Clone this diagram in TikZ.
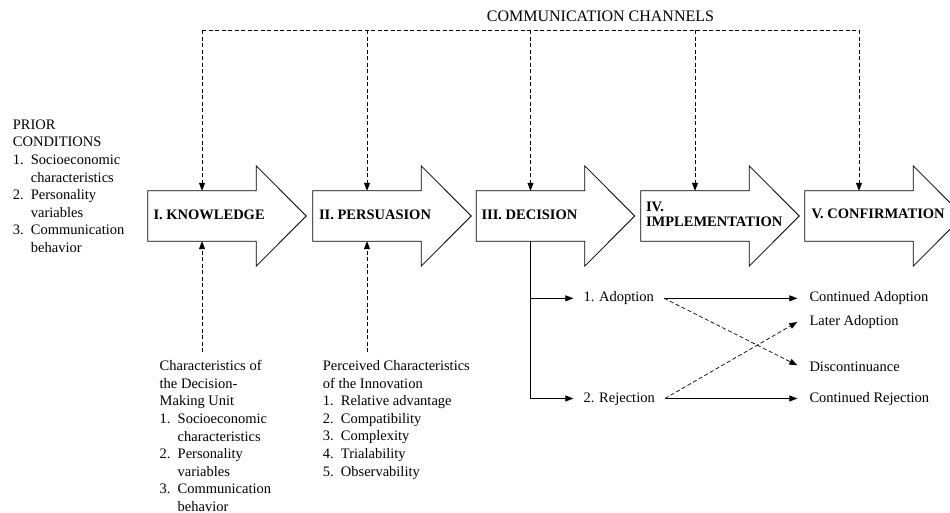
\documentclass[tikz,border=0pt]{standalone}
\usepackage{fontspec}
\setmainfont{Liberation Serif}
\usetikzlibrary{arrows.meta,calc}
\newcommand\numitem[1]{\makebox[18pt][l]{#1}}
\newcommand\contline{\hspace*{18pt}}
\begin{document}
\begin{tikzpicture}[x=1pt,y=-1pt,
  outl/.style={draw=black,line width=0.8pt},
  bodybox/.style={rectangle,minimum width=108pt,minimum height=50pt,inner sep=0pt},
  stagelabel/.style={font=\bfseries\fontsize{14.5}{15}\selectfont,align=left,inner sep=0pt,anchor=west},
  txt/.style={font=\fontsize{14.5}{17.6}\selectfont,align=left,inner sep=0pt,anchor=north west},
  lbl/.style={font=\fontsize{14.5}{17.7}\selectfont,inner ysep=0pt,text height=10pt,text depth=3pt,anchor=west},
  tip/.style={-{Triangle[length=8pt,width=6pt]}},
  dsh/.style={dash pattern=on 4pt off 2.5pt,line width=0.7pt},
  solidln/.style={line width=0.7pt}
]
\useasboundingbox (0,0) rectangle (950,513);
% stage arrows
\foreach \nm/\cx in {k/202, p/367, d/530.5, i/695, c/859} {
  \node[bodybox] (\nm) at (\cx,216) {};
  \draw[outl] (\nm.north west) -- (\nm.north east) -- ++(0,-25) -- ($(\nm.east)+(50,0)$) -- ($(\nm.south east)+(0,25)$) -- (\nm.south east) -- (\nm.south west) -- cycle;
}
\node[stagelabel] (kl) at ($(k.west)+(5.5,-1)$) {I. KNOWLEDGE};
\node[stagelabel] (pl) at ($(p.west)+(6,-1)$) {II. PERSUASION};
\node[stagelabel] (dl) at ($(d.west)+(5,-1)$) {III. DECISION};
\node[stagelabel] (il) at ($(i.west)+(5,-2)$) {IV.\\IMPLEMENTATION};
\node[stagelabel] (cl) at ($(c.west)+(6.5,-2.5)$) {V. CONFIRMATION};
% communication channels
\node[font=\fontsize{16}{18}\selectfont,inner sep=0pt] (cc) at (600.5,16) {COMMUNICATION CHANNELS};
\coordinate (chan) at (0,30.5);
\draw[dsh] (k.north |- chan) -- (c.north |- chan);
\foreach \nm in {k,p,d,i,c} \draw[dsh,tip] (\nm.north |- chan) -- (\nm.north);
% prior conditions
\node[txt] (prior) at (12.7,119.5) {PRIOR\\CONDITIONS\\\numitem{1.}Socioeconomic\\\contline characteristics\\\numitem{2.}Personality\\\contline variables\\\numitem{3.}Communication\\\contline behavior};
% lower inputs
\coordinate (feed) at (0,352);
\draw[dsh,tip] (k.south |- feed) -- (k.south);
\draw[dsh,tip] (p.south |- feed) -- (p.south);
\node[txt] (dmu) at (159.5,360.2) {Characteristics of\\the Decision-\\Making Unit\\\numitem{1.}Socioeconomic\\\contline characteristics\\\numitem{2.}Personality\\\contline variables\\\numitem{3.}Communication\\\contline behavior};
\node[txt] (pci) at (322.7,360.2) {Perceived Characteristics\\of the Innovation\\\numitem{1.}Relative advantage\\\numitem{2.}Compatibility\\\numitem{3.}Complexity\\\numitem{4.}Trialability\\\numitem{5.}Observability};
% decision outcomes
\node[lbl,inner xsep=10pt] (adopt) at (573.3,298.3) {1. Adoption};
\node[lbl,inner xsep=10pt] (reject) at (573.3,398.5) {2. Rejection};
\node[lbl,inner xsep=12pt] (cadopt) at (797.3,298.3) {Continued Adoption};
\node[lbl,inner xsep=12pt] (later) at (797.3,322) {Later Adoption};
\node[lbl,inner xsep=12pt] (disc) at (797.3,368.3) {Discontinuance};
\node[lbl,inner xsep=12pt] (crej) at (797.3,398.5) {Continued Rejection};
\draw[solidln,tip] (d.south) |- (adopt.west);
\draw[solidln,tip] (d.south) |- (reject.west);
\draw[solidln,tip] (adopt.east) -- (cadopt.west);
\draw[solidln,tip] (reject.east) -- (crej.west);
\draw[dsh,tip] (adopt.east) -- ($(disc.west)+(0,-3)$);
\draw[dsh,tip] (reject.east) -- (later.west);
\end{tikzpicture}
\end{document}
